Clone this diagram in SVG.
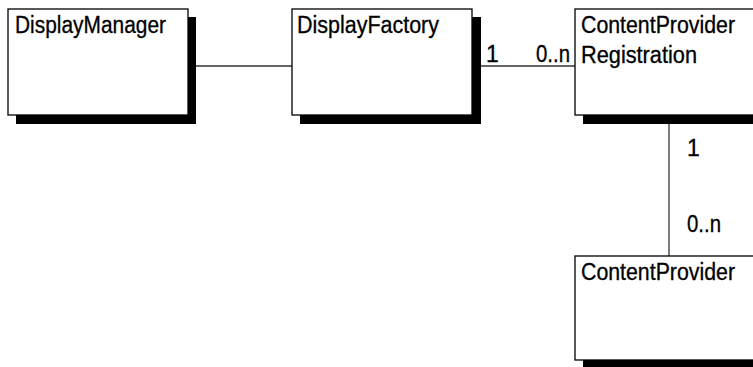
<svg xmlns="http://www.w3.org/2000/svg" width="753" height="367" viewBox="0 0 753 367">
<style>
.shadow{fill:#000}
.box{fill:#fff;stroke:#000;stroke-width:1.3}
.t{font-family:"Liberation Sans",Arial,sans-serif;font-size:23px;fill:#000;stroke:#000;stroke-width:0.3}
.c{stroke:#333;stroke-width:1.3;fill:none}
</style>
<rect width="753" height="367" fill="#fff"/>
<g id="connectors">
<line class="c" x1="196" y1="66" x2="292" y2="66"/>
<line class="c" x1="481" y1="66" x2="575" y2="66"/>
<line class="c" x1="669" y1="124" x2="669" y2="256"/>
<text class="t" x="486" y="62">1</text>
<text class="t" x="536" y="62" textLength="34" lengthAdjust="spacingAndGlyphs">0..n</text>
<text class="t" x="687" y="156">1</text>
<text class="t" x="687" y="232" textLength="34" lengthAdjust="spacingAndGlyphs">0..n</text>
</g>
<g id="DisplayManager">
<rect class="shadow" x="16" y="17" width="180" height="107"/>
<rect class="box" x="8" y="9" width="180" height="106"/>
<text class="t" x="15" y="33" textLength="151" lengthAdjust="spacingAndGlyphs">DisplayManager</text>
</g>
<g id="DisplayFactory">
<rect class="shadow" x="300" y="17" width="181" height="107"/>
<rect class="box" x="292" y="9" width="180" height="106"/>
<text class="t" x="297" y="33" textLength="142" lengthAdjust="spacingAndGlyphs">DisplayFactory</text>
</g>
<g id="ContentProviderRegistration">
<rect class="shadow" x="583" y="17" width="180" height="107"/>
<rect class="box" x="575" y="9" width="180" height="106"/>
<text class="t" x="581" y="33" textLength="154" lengthAdjust="spacingAndGlyphs">ContentProvider</text>
<text class="t" x="581" y="63" textLength="116" lengthAdjust="spacingAndGlyphs">Registration</text>
</g>
<g id="ContentProvider">
<rect class="shadow" x="583" y="264" width="180" height="107"/>
<rect class="box" x="575" y="256" width="180" height="104"/>
<text class="t" x="581" y="280" textLength="154" lengthAdjust="spacingAndGlyphs">ContentProvider</text>
</g>
</svg>
